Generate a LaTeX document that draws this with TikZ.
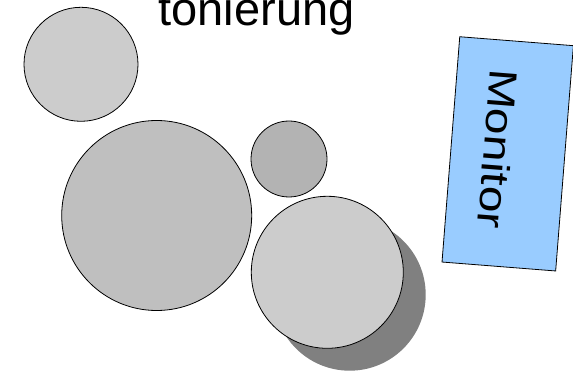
\documentclass[tikz,border=0pt]{standalone}
\usepackage{fontspec}
\setmainfont{Liberation Sans}
\definecolor{lightball}{HTML}{CCCCCC}
\definecolor{midball}{HTML}{BFBFBF}
\definecolor{darkball}{HTML}{B3B3B3}
\definecolor{shadowgray}{HTML}{808080}
\definecolor{monitorblue}{HTML}{99CCFF}
\begin{document}
\begin{tikzpicture}[x=1pt,y=-1pt,
  ball/.style={circle, draw=black, line width=0.8pt, inner sep=0pt, outer sep=0pt},
  shadowball/.style={circle, fill=shadowgray, draw=none, inner sep=0pt, outer sep=0pt},
  bigtext/.style={font=\fontsize{47}{56}\selectfont, text=black, inner sep=0pt},
  screen/.style={draw=black, line width=0.8pt, fill=monitorblue, inner sep=0pt,
    minimum width=114pt, minimum height=226pt}]
\clip (0,0) rectangle (573,374);
\node[bigtext, anchor=base] (title) at (256.5,26) {tonierung};
\node[shadowball, minimum size=152pt] (shadow) at (349.7,294.7) {};
\node[ball, fill=lightball, minimum size=114pt] (topleft) at (81,64.3) {};
\node[ball, fill=midball, minimum size=190pt] (big) at (156.7,215.5) {};
\node[ball, fill=darkball, minimum size=76pt] (small) at (289,159) {};
\node[ball, fill=lightball, minimum size=152pt] (right) at (327.3,272.3) {};
\node[screen, rotate=-4.5] (monitor) at (507.7,153.85) {};
\node[bigtext, font=\fontsize{48}{56}\selectfont, rotate=-94.5] (monitorlabel) at (498,149) {\scalebox{1}[0.82]{Monitor}};
\end{tikzpicture}
\end{document}
